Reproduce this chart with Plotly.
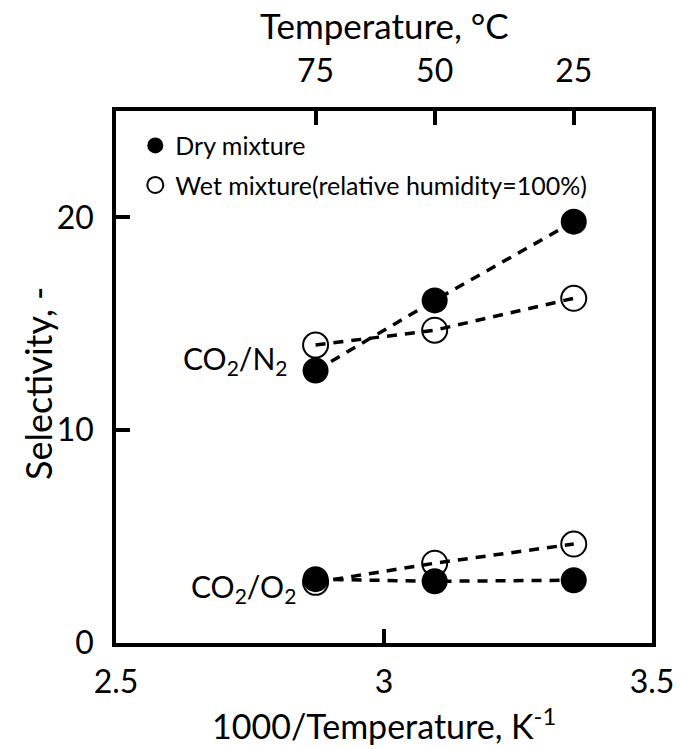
import plotly.graph_objects as go

temps_c = [75, 50, 25]
inv_t = [1000 / (t + 273.15) for t in temps_c]

dry_n2 = [12.8, 16.1, 19.8]
wet_n2 = [14.0, 14.7, 16.2]
dry_o2 = [3.0, 2.9, 2.95]
wet_o2 = [2.85, 3.75, 4.65]

x_ticks = [2.5, 3, 3.5]
y_ticks = [0, 10, 20]
top_tick_labels = ["75", "50", "25"]

FONT = "Lato"
fig = go.Figure()

line_style = dict(color="black", width=3.5, dash="10px,8px")

for ys in [dry_n2, wet_n2, dry_o2, wet_o2]:
    fig.add_trace(go.Scatter(x=inv_t, y=ys, mode="lines", line=line_style,
                             showlegend=False, hoverinfo="skip"))

wet_marker = dict(symbol="circle-open", size=25, color="black", line=dict(width=2))
dry_marker = dict(symbol="circle", size=26, color="black")

fig.add_trace(go.Scatter(x=inv_t, y=wet_o2, mode="markers", marker=wet_marker,
                         name="Wet mixture(relative humidity=100%)", legendgroup="wet",
                         showlegend=False))
fig.add_trace(go.Scatter(x=inv_t, y=dry_o2, mode="markers", marker=dry_marker,
                         name="Dry mixture", legendgroup="dry", showlegend=False))
fig.add_trace(go.Scatter(x=inv_t, y=wet_n2, mode="markers", marker=wet_marker,
                         name="Wet mixture(relative humidity=100%)", legendgroup="wet",
                         showlegend=True, legendrank=2))
fig.add_trace(go.Scatter(x=inv_t, y=dry_n2, mode="markers", marker=dry_marker,
                         name="Dry mixture", legendgroup="dry", showlegend=True,
                         legendrank=1))

fig.add_trace(go.Scatter(x=inv_t, y=dry_n2, xaxis="x2", mode="markers",
                         marker=dict(opacity=0), showlegend=False, hoverinfo="skip"))

TICK_SIZE = 32
TITLE_SIZE = 34
axis_common = dict(showline=True, linecolor="black", linewidth=3.5, ticks="inside",
                   ticklen=14, tickwidth=3.5, tickcolor="black", showgrid=False,
                   zeroline=False, automargin=False,
                   tickfont=dict(family=FONT, size=TICK_SIZE, color="black"))

fig.update_layout(
    width=682, height=749,
    margin=dict(l=116, r=30, t=111, b=106),
    plot_bgcolor="white", paper_bgcolor="white",
    font=dict(family=FONT, color="black"),
    xaxis=dict(range=[2.5, 3.5], tickvals=x_ticks, ticktext=["2.5", "3", "3.5"],
               mirror=True, ticklabelstandoff=8, **axis_common),
    xaxis2=dict(range=[2.5, 3.5], overlaying="x", side="top", tickvals=inv_t,
                ticktext=top_tick_labels, ticklabelstandoff=12, **axis_common),
    yaxis=dict(range=[0, 25], tickvals=y_ticks, mirror=True, ticklabelstandoff=12,
               **axis_common),
    legend=dict(x=0.036, y=0.978, xanchor="left", yanchor="top",
                bgcolor="rgba(0,0,0,0)", font=dict(family=FONT, size=25),
                tracegroupgap=4),
    showlegend=True,
)

# axis titles
fig.add_annotation(x=0.5, y=0, xref="paper", yref="paper",
                   text="1000/Temperature, K<sup>-1</sup>", showarrow=False,
                   yanchor="middle", yshift=-81,
                   font=dict(family=FONT, size=TITLE_SIZE, color="black"))
fig.add_annotation(x=0.5, y=1, xref="paper", yref="paper",
                   text="Temperature, °C", showarrow=False,
                   yanchor="middle", yshift=86,
                   font=dict(family=FONT, size=35, color="black"))
fig.add_annotation(x=0, y=0.5, xref="paper", yref="paper",
                   text="Selectivity, -", showarrow=False, textangle=-90,
                   xanchor="center", xshift=-78, yshift=-7,
                   font=dict(family=FONT, size=36, color="black"))

fig.add_annotation(x=2.872, y=13.3, xref="x", yref="y", text="CO<sub>2</sub>/N<sub>2</sub>",
                   showarrow=False, xanchor="right", xshift=-26,
                   font=dict(family=FONT, size=30, color="black"))
fig.add_annotation(x=2.872, y=2.6, xref="x", yref="y", text="CO<sub>2</sub>/O<sub>2</sub>",
                   showarrow=False, xanchor="right", xshift=-17,
                   font=dict(family=FONT, size=30, color="black"))

fig.write_html("out.html")
